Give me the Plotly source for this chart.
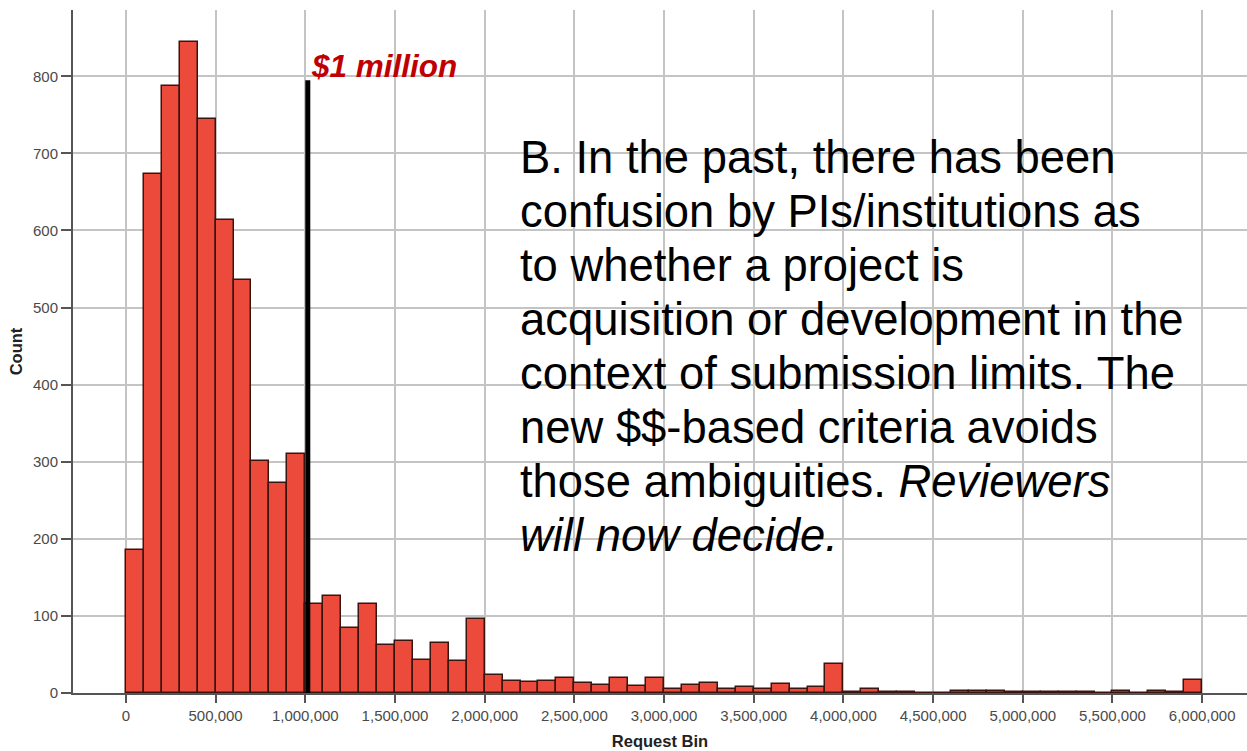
import plotly.graph_objects as go

# ---- data ----
bin_width = 100_000
bin_starts = list(range(0, 6_000_000, bin_width))
counts = [185, 673, 788, 844, 745, 613, 536, 301, 273, 310,
          116, 126, 84, 115, 62, 68, 43, 65, 42, 96,
          23, 16, 14, 16, 20, 13, 11, 19, 9, 20,
          5, 10, 13, 5, 8, 5, 12, 5, 8, 38,
          1, 5, 1, 1, 0, 0, 3, 3, 3, 1,
          1, 1, 1, 1, 0, 2, 0, 2, 1, 17]
x_tick_vals = [0, 500_000, 1_000_000, 1_500_000, 2_000_000, 2_500_000, 3_000_000,
               3_500_000, 4_000_000, 4_500_000, 5_000_000, 5_500_000, 6_000_000]
x_tick_text = ["0", "500,000", "1,000,000", "1,500,000", "2,000,000", "2,500,000",
               "3,000,000", "3,500,000", "4,000,000", "4,500,000", "5,000,000",
               "5,500,000", "6,000,000"]
y_tick_vals = [0, 100, 200, 300, 400, 500, 600, 700, 800]
threshold = 1_000_000
threshold_label = "$1 million"
threshold_line_top = 795
note_lines = ["B. In the past, there has been",
              "confusion by PIs/institutions as",
              "to whether a project is",
              "acquisition or development in the",
              "context of submission limits. The",
              "new $$-based criteria avoids",
              "those ambiguities. <i>Reviewers</i>",
              "<i>will now decide.</i>"]

# ---- layout geometry ----
W, H = 1247, 751
ML, MR, MT, MB = 73, 0, 10, 58
plot_w = W - ML - MR
plot_h = H - MT - MB

def px_x(px):
    return (px - ML) / plot_w

def px_y(py):
    return (H - MB - py) / plot_h

FONT = "Arial, 'Liberation Sans', sans-serif"

fig = go.Figure()
fig.add_trace(go.Bar(
    x=[s + bin_width / 2 for s in bin_starts],
    y=counts,
    width=bin_width,
    marker=dict(color="#ec4a3a", line=dict(color="#3a1510", width=1.5)),
    hoverinfo="x+y",
))

fig.add_shape(type="line", xref="x", yref="y",
              x0=threshold + 14_000, x1=threshold + 14_000, y0=0, y1=threshold_line_top,
              line=dict(color="black", width=5))

fig.add_annotation(x=threshold + 20_000, y=px_y(66), xref="x", yref="paper",
                   xanchor="left", yanchor="middle", showarrow=False,
                   text="<b><i>" + threshold_label + "</i></b>",
                   font=dict(family=FONT, size=31.5, color="#c00000"))

base0 = 173
step = 54.05
fs = 45.4
for i, line in enumerate(note_lines):
    baseline = base0 + step * i
    mid = baseline - 0.3465 * fs
    fig.add_annotation(x=px_x(518), y=px_y(mid), xref="paper", yref="paper",
                       xanchor="left", yanchor="middle", showarrow=False,
                       text=line, font=dict(family=FONT, size=fs, color="black"))

fig.update_layout(
    width=W, height=H,
    margin=dict(l=ML, r=MR, t=MT, b=MB, pad=0),
    plot_bgcolor="white", paper_bgcolor="white",
    showlegend=False,
    bargap=0,
    font=dict(family=FONT, color="#444444", size=15),
)
fig.update_xaxes(
    range=[-295_000, 6_250_000],
    tickvals=x_tick_vals, ticktext=x_tick_text,
    showgrid=True, gridcolor="#c4c4c4", gridwidth=2,
    showline=True, linecolor="#555555", linewidth=2,
    ticks="outside", ticklen=8, tickcolor="#555555", tickwidth=2,
    tickfont=dict(size=15, color="#4a4a4a"),
    zeroline=False,
    title=dict(text="<b>Request Bin</b>", font=dict(size=16.5, color="#222222"), standoff=12),
    automargin=False,
)
fig.update_yaxes(
    range=[0, 886],
    tickvals=y_tick_vals,
    showgrid=True, gridcolor="#c4c4c4", gridwidth=2,
    showline=True, linecolor="#555555", linewidth=2,
    ticks="outside", ticklen=10, tickcolor="#555555", tickwidth=2,
    tickfont=dict(size=15, color="#4a4a4a"),
    zeroline=False,
    title=dict(text="<b>Count</b>", font=dict(size=16.5, color="#222222"), standoff=6),
    automargin=False,
)

fig.write_html("out.html", config={"displayModeBar": False},
               post_script="document.body.style.margin='0';document.body.style.overflow='hidden';")
